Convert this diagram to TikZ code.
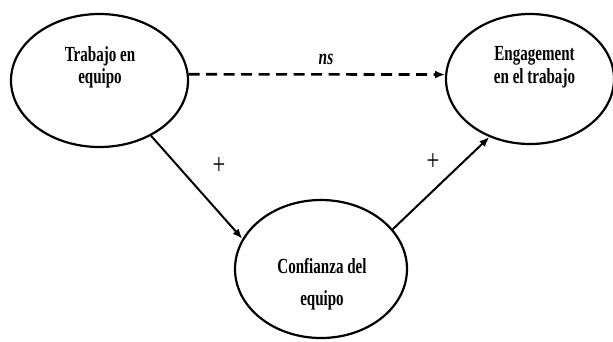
\documentclass[tikz,border=0pt]{standalone}
\usepackage{fontspec}
\usepackage{graphicx}
\setmainfont{Liberation Serif}
\usetikzlibrary{arrows.meta,shapes.geometric}
\newcommand\cond[1]{\scalebox{0.7}[1]{#1}}
\begin{document}
\begin{tikzpicture}[x=1pt,y=-1pt,
  var/.style={draw, ellipse, line width=2.2pt, inner sep=0pt},
  lbl/.style={font=\fontsize{21.5}{24}\selectfont\bfseries, anchor=base, inner sep=0pt},
  sgn/.style={font=\fontsize{30}{32}\selectfont, inner sep=0pt},
  conn/.style={line width=2pt, -{Latex[length=10pt,width=8pt]}},
  dconn/.style={line width=2.6pt, dash pattern=on 11pt off 6.5pt, -{Latex[length=10pt,width=8pt]}},
  ]
\useasboundingbox (0,0) rectangle (613,341);
\fill[white] (0,0) rectangle (613,341);
\node[var, minimum width=177pt, minimum height=133pt] (te) at (99.5,80.5) {};
\node[var, minimum width=168pt, minimum height=130pt] (ee) at (530,79) {};
\node[var, minimum width=172pt, minimum height=138pt] (ce) at (321,269) {};

\node[lbl] (t1) at (100,61) {\cond{Trabajo en}};
\node[lbl] (t2) at (100,83) {\cond{equipo}};
\node[lbl] (e1) at (534.5,60) {\cond{Engagement}};
\node[lbl] (e2) at (534.5,83) {\cond{en el trabajo}};
\node[lbl] (c1) at (322,273) {\cond{Confianza del}};
\node[lbl] (c2) at (322,305) {\cond{equipo}};

\node[font=\fontsize{22}{24}\selectfont\itshape\bfseries, anchor=base, inner sep=0pt] (ns) at (326,64) {\cond{ns}};
\node[sgn] (p1) at (219,166) {\scalebox{0.75}[1]{+}};
\node[sgn] (p2) at (433,162) {\scalebox{0.75}[1]{+}};

\draw[dconn] (te.4) -- (ee.177);
\draw[conn] (te.-47) -- (ce.159);
\draw[conn] (ce.29) -- (ee.-125);
\end{tikzpicture}
\end{document}
